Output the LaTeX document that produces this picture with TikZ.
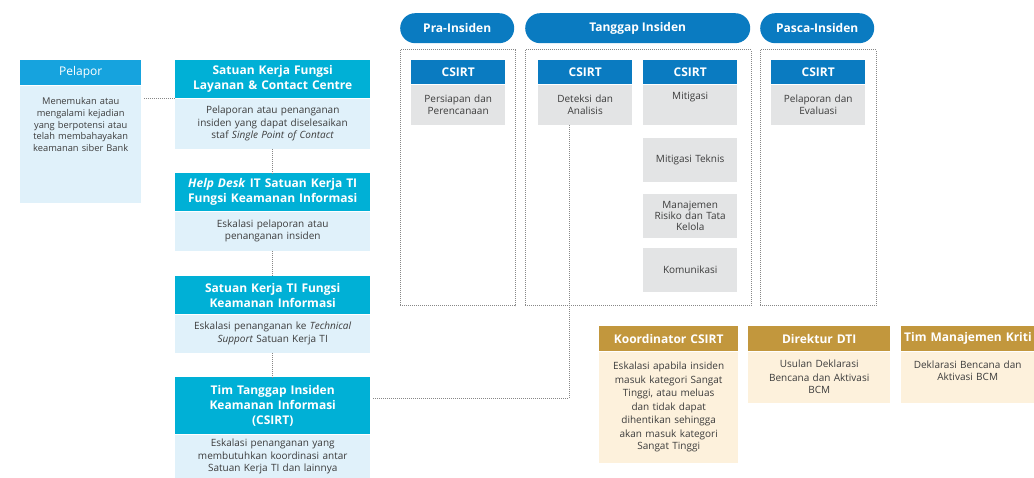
\documentclass[tikz,border=0pt]{standalone}
\usepackage{fontspec}
\setmainfont{Open Sans}
\usepackage{xcolor}
\usepackage{tikz}
\usetikzlibrary{positioning}

\definecolor{biruTua}{RGB}{10,123,193}
\definecolor{biruLangit}{RGB}{22,163,222}
\definecolor{sian}{RGB}{0,176,214}
\definecolor{biruPucat}{RGB}{224,241,250}
\definecolor{abuMuda}{RGB}{227,228,229}
\definecolor{emas}{RGB}{194,151,61}
\definecolor{kremMuda}{RGB}{253,241,220}
\definecolor{teks}{RGB}{60,60,60}
\definecolor{garis}{RGB}{135,135,135}

% teks rata atas di dalam kotak
\newcommand{\atas}[4]{\parbox[t][#1][t]{#2}{\centering\vspace*{#3}#4}}

\begin{document}
\begin{tikzpicture}[x=1pt, y=-1pt,
    font=\fontsize{10}{12.5}\selectfont, text=teks,
    kepala/.style={anchor=north west, fill=sian, text=white, inner sep=0pt, align=center,
        font=\bfseries\fontsize{12}{15}\selectfont},
    isi/.style={anchor=north west, fill=biruPucat, inner sep=0pt, align=center},
    fase/.style={anchor=north west, fill=biruTua, text=white, rounded corners=15pt,
        minimum height=30pt, inner sep=0pt, font=\bfseries\fontsize{12}{14}\selectfont},
    bingkai/.style={draw=garis, densely dotted, line width=1pt},
    kepalaCS/.style={anchor=north west, fill=biruTua, text=white, text width=94pt,
        minimum height=24pt, inner sep=0pt, align=center, font=\bfseries\fontsize{12}{14}\selectfont},
    abu/.style={anchor=north west, fill=abuMuda, text width=94pt, minimum height=44pt,
        inner sep=0pt, align=center},
    kepalaEmas/.style={anchor=north west, fill=emas, text=white, minimum height=25pt,
        inner sep=0pt, align=center, font=\bfseries\fontsize{12}{14}\selectfont},
    krem/.style={anchor=north west, fill=kremMuda, inner sep=0pt, align=center},
    titik/.style={draw=garis, densely dotted, line width=1pt}]

    \useasboundingbox (0,0) rectangle (1034,478);

    % Pelapor
    \node[kepala, fill=biruLangit, font=\fontsize{12}{14}\selectfont, text width=121pt,
        minimum height=25pt] (pelH) at (20,60) {Pelapor};
    \node[isi, text width=121pt, font=\fontsize{9.3}{11.7}\selectfont, below=0pt of pelH] (pelB)
        {\atas{117pt}{121pt}{12pt}{Menemukan atau\\mengalami kejadian\\yang berpotensi atau\\telah membahayakan\\keamanan siber Bank}};

    % Jalur eskalasi
    \node[kepala, text width=195pt, minimum height=38pt] (sk1H) at (175,60)
        {Satuan Kerja Fungsi\\Layanan \& Contact Centre};
    \node[isi, text width=195pt, minimum height=50pt, below=0pt of sk1H] (sk1B)
        {Pelaporan atau penanganan\\insiden yang dapat diselesaikan\\staf \textit{Single Point of Contact}};

    \node[kepala, text width=195pt, minimum height=38pt] (hdH) at (175,173)
        {\textit{Help Desk} IT Satuan Kerja TI\\Fungsi Keamanan Informasi};
    \node[isi, text width=195pt, minimum height=39pt, below=0pt of hdH] (hdB)
        {Eskalasi pelaporan atau\\penanganan insiden};

    \node[kepala, text width=195pt, minimum height=38pt] (sk2H) at (175,276)
        {Satuan Kerja TI Fungsi\\Keamanan Informasi};
    \node[isi, text width=195pt, minimum height=38pt, below=0pt of sk2H] (sk2B)
        {Eskalasi penanganan ke \textit{Technical}\\\textit{Support} Satuan Kerja TI};

    \node[kepala, text width=195pt, minimum height=57pt] (csH) at (175,377)
        {Tim Tanggap Insiden\\Keamanan Informasi\\(CSIRT)};
    \node[isi, text width=195pt, minimum height=44pt, below=0pt of csH] (csB)
        {Eskalasi penanganan yang\\membutuhkan koordinasi antar\\Satuan Kerja TI dan lainnya};

    % Fase
    \node[fase, minimum width=114pt] (pra) at (400,13) {Pra-Insiden};
    \node[fase, minimum width=225pt] (tanggap) at (525,13) {Tanggap Insiden};
    \node[fase, minimum width=114pt] (pasca) at (760,13) {Pasca-Insiden};

    \draw[bingkai] (400,50) rectangle (515,306);
    \draw[bingkai] (525,50) rectangle (751,306);
    \draw[bingkai] (760,50) rectangle (876,306);

    \node[kepalaCS] (praH) at (411,60) {CSIRT};
    \node[abu, minimum height=40pt, below=0pt of praH] (praB) {Persiapan dan\\Perencanaan};

    \node[kepalaCS] (detH) at (538,60) {CSIRT};
    \node[abu, minimum height=40pt, below=0pt of detH] (detB) {Deteksi dan\\Analisis};

    \node[kepalaCS] (mitH) at (643,60) {CSIRT};
    \node[abu, minimum height=40pt, below=0pt of mitH] (mitB) {\atas{40pt}{94pt}{8pt}{Mitigasi}};
    \node[abu] (mtek) at (643,138) {Mitigasi Teknis};
    \node[abu, font=\fontsize{10}{11}\selectfont] (mrisk) at (643,194) {Manajemen\\Risiko dan Tata\\Kelola};
    \node[abu] (kom) at (643,248) {Komunikasi};

    \node[kepalaCS] (pasH) at (771,60) {CSIRT};
    \node[abu, minimum height=40pt, below=0pt of pasH] (pasB) {Pelaporan dan\\Evaluasi};

    % Eskalasi lanjutan
    \node[kepalaEmas, text width=139pt] (korH) at (599,326) {Koordinator CSIRT};
    \node[krem, text width=139pt, minimum height=111pt, below=0pt of korH] (korB)
        {\fontsize{10}{13.6}\selectfont Eskalasi apabila insiden\\masuk kategori Sangat\\Tinggi, atau meluas\\dan tidak dapat\\dihentikan sehingga\\akan masuk kategori\\Sangat Tinggi};

    \node[kepalaEmas, text width=142pt] (dirH) at (748,326) {Direktur DTI};
    \node[krem, text width=142pt, minimum height=51pt, below=0pt of dirH] (dirB)
        {\fontsize{10}{13.6}\selectfont Usulan Deklarasi\\Bencana dan Aktivasi\\BCM};

    \node[kepalaEmas, text width=133pt, align=left] (timH) at (901,326)
        {\mbox{\hspace*{3pt}Tim Manajemen Kriti}};
    \node[krem, text width=133pt, below=0pt of timH] (timB)
        {\atas{51pt}{133pt}{9pt}{Deklarasi Bencana dan\\Aktivasi BCM}};

    % Garis penghubung
    \draw[titik] (sk1H.south west) -- ([xshift=2pt]pelB.east |- sk1H.south west);
    \draw[titik] (sk1B.south) -- (hdH.north);
    \draw[titik] (hdB.south) -- (sk2H.north);
    \draw[titik] (sk2B.south) -- (csH.north);
    \draw[titik] ([xshift=3pt,yshift=7.5pt]csH.east) -| ([xshift=-16pt]detB.south);

\end{tikzpicture}
\end{document}
